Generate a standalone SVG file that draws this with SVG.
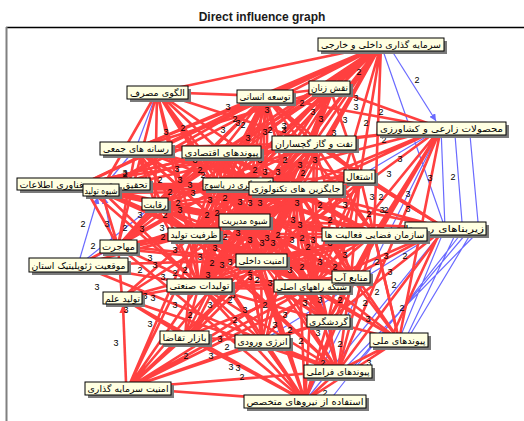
<svg xmlns="http://www.w3.org/2000/svg" width="524" height="421" viewBox="0 0 524 421">
<defs>
<style>
.r{fill:none;stroke:#ff4040;stroke-width:2.6}
.b{fill:none;stroke:#6a6aff;stroke-width:1.2}
.n .s{fill:#7a7a7a}
.n .k{fill:#ffffe1;stroke:#000;stroke-width:1}
.n text{font-family:"DejaVu Sans",sans-serif;font-size:9px;fill:#000;text-anchor:middle}
.n text.e{text-anchor:end}
.lb text{font-family:"Liberation Sans",Arial,sans-serif;font-size:9px;fill:#000;text-anchor:middle}
</style>
<marker id="ab" viewBox="0 0 10 10" refX="10" refY="5" markerWidth="7" markerHeight="7" orient="auto" markerUnits="userSpaceOnUse"><path d="M0 0L10 5L0 10z" fill="#6a6aff"/></marker>
<marker id="ar" viewBox="0 0 10 10" refX="10" refY="5" markerWidth="8" markerHeight="8" orient="auto" markerUnits="userSpaceOnUse"><path d="M0 0L10 5L0 10z" fill="#ff4040"/></marker>
</defs>
<rect width="524" height="421" fill="#fff"/>
<text x="262" y="21" font-family="Liberation Sans, Arial, sans-serif" font-size="12" font-weight="bold" text-anchor="middle" fill="#1a1a1a">Direct influence graph</text>
<line x1="6" y1="27.5" x2="524" y2="27.5" stroke="#000" stroke-width="1.3"/>
<line x1="6.5" y1="27" x2="6.5" y2="421" stroke="#808080" stroke-width="2"/>
<g id="connectors">
<path class="b" d="M381 45L445 228M381 45L330 88M381 45L265 96M381 45L314 143M381 45L360 176M441 128L445 228M441 128L374 234M441 128L399 340M441 128L338 371M441 128L351 277M441 128L312 286M441 128L305 401M441 128L360 176M470 135L478 222M455 135L462 222M157 92L136 148M157 92L155 204M157 92L101 190M157 92L221 152M157 92L118 246M136 148L155 204M136 148L101 190M79 265L118 246M79 265L155 204M445 228L399 340M445 228L338 371M445 228L305 401M445 228L328 321M445 228L351 277M445 228L312 286M445 228L262 341M128 388L185 337M128 388L262 341M128 388L338 371M128 388L199 285M305 401L328 321M305 401L351 277M305 401L312 286M305 401L399 340M221 152L155 204M221 152L136 148M118 246L122 298M122 298L199 285M122 298L185 337M227 184L244 220M296 188L374 234M261 260L312 286M194 234L199 285M244 220L261 260M155 204L194 234M227 184L155 204M296 188L351 277M314 143L296 188M221 152L244 220M374 234L305 401M360 176L399 340M296 188L338 371M261 260L399 340M455 235L405 340M465 235L350 371M460 235L330 400M470 235L410 335M475 235L345 368"/>
<line class="b" x1="392" y1="51" x2="436" y2="121" marker-end="url(#ab)"/>
<line class="b" x1="80" y1="258" x2="98" y2="197" marker-end="url(#ab)"/>
<line class="b" x1="112" y1="240" x2="104" y2="197" marker-end="url(#ab)"/>
<path class="r" d="M381 45L157 92M381 45L265 96M381 45L330 88M381 45L314 143M381 45L136 148M381 45L221 152M381 45L360 176M381 45L83 184M381 45L101 190M381 45L155 204M381 45L227 184M381 45L296 188M381 45L244 220M381 45L194 234M381 45L261 260M381 45L199 285M381 45L312 286M381 45L374 234M381 45L118 246"/>
<path class="r" d="M157 92L265 96M157 92L221 152M157 92L227 184M157 92L296 188M157 92L244 220M157 92L194 234M157 92L314 143M157 92L261 260M157 92L199 285M157 92L155 204M157 92L101 190M157 92L118 246"/>
<path class="r" d="M265 96L314 143M265 96L221 152M265 96L227 184M265 96L296 188M265 96L244 220M265 96L194 234M265 96L261 260M265 96L199 285M265 96L155 204M265 96L136 148M265 96L83 184M265 96L101 190M265 96L374 234M265 96L360 176M265 96L312 286M265 96L118 246M265 96L330 88"/>
<path class="r" d="M330 88L221 152M330 88L227 184M330 88L296 188M330 88L244 220M330 88L261 260M330 88L314 143M330 88L136 148M330 88L155 204M330 88L194 234M330 88L199 285M330 88L360 176"/>
<path class="r" d="M441 128L314 143M441 128L296 188M441 128L374 234M441 128L227 184M441 128L244 220M441 128L261 260M441 128L351 277M441 128L312 286M441 128L221 152M441 128L265 96M441 128L399 340M441 128L338 371M441 128L328 321M441 128L330 88"/>
<path class="r" d="M314 143L221 152M314 143L227 184M314 143L244 220M314 143L194 234M314 143L261 260M314 143L199 285M314 143L296 188M314 143L155 204M314 143L136 148M314 143L83 184M314 143L101 190M314 143L374 234M314 143L351 277M314 143L312 286M314 143L360 176"/>
<path class="r" d="M136 148L221 152M136 148L227 184M136 148L296 188M136 148L244 220M136 148L194 234M136 148L261 260M136 148L155 204M136 148L199 285M136 148L118 246"/>
<path class="r" d="M221 152L227 184M221 152L296 188M221 152L244 220M221 152L194 234M221 152L261 260M221 152L199 285M221 152L155 204M221 152L101 190M221 152L83 184M221 152L118 246M221 152L374 234M221 152L312 286M221 152L351 277M221 152L360 176"/>
<path class="r" d="M360 176L296 188M360 176L244 220M360 176L374 234M360 176L227 184M360 176L261 260M360 176L351 277M360 176L312 286M360 176L194 234M360 176L445 228M360 176L328 321M360 176L399 340"/>
<path class="r" d="M83 184L227 184M83 184L296 188M83 184L244 220M83 184L155 204M83 184L194 234M83 184L221 152M83 184L261 260M83 184L199 285M83 184L118 246"/>
<path class="r" d="M101 190L155 204M101 190L227 184M101 190L296 188M101 190L244 220M101 190L194 234M101 190L261 260M101 190L199 285M101 190L118 246"/>
<path class="r" d="M155 204L227 184M155 204L296 188M155 204L244 220M155 204L194 234M155 204L261 260M155 204L199 285M155 204L118 246M155 204L374 234M155 204L312 286"/>
<path class="r" d="M227 184L296 188M227 184L244 220M227 184L194 234M227 184L261 260M227 184L199 285M227 184L374 234M227 184L351 277M227 184L312 286M227 184L328 321"/>
<path class="r" d="M296 188L244 220M296 188L194 234M296 188L261 260M296 188L199 285M296 188L374 234M296 188L351 277M296 188L312 286M296 188L328 321M296 188L262 341M296 188L399 340"/>
<path class="r" d="M244 220L194 234M244 220L261 260M244 220L199 285M244 220L374 234M244 220L351 277M244 220L312 286M244 220L328 321M244 220L185 337M244 220L262 341M244 220L399 340M244 220L338 371"/>
<path class="r" d="M194 234L261 260M194 234L199 285M194 234L374 234M194 234L351 277M194 234L312 286M194 234L328 321M194 234L185 337M194 234L262 341M194 234L122 298M194 234L338 371"/>
<path class="r" d="M374 234L261 260M374 234L351 277M374 234L312 286M374 234L199 285M374 234L328 321M374 234L399 340M374 234L338 371M374 234L445 228"/>
<path class="r" d="M445 228L296 188M445 228L360 176M445 228L244 220M445 228L261 260M445 228L351 277M445 228L312 286M445 228L227 184M445 228L314 143M445 228L328 321M445 228L338 371M440 232L392 336"/>
<path class="r" d="M118 246L194 234M118 246L261 260M118 246L199 285M118 246L244 220M118 246L227 184M118 246L122 298M79 265L194 234M79 265L199 285M79 265L261 260M79 265L244 220M79 265L227 184"/>
<path class="r" d="M261 260L351 277M261 260L312 286M261 260L199 285M261 260L328 321M261 260L185 337M261 260L262 341M261 260L399 340M261 260L338 371M351 277L312 286M351 277L199 285M351 277L328 321M351 277L399 340M351 277L338 371M312 286L199 285M312 286L328 321M312 286L185 337M312 286L262 341M312 286L399 340M312 286L338 371"/>
<path class="r" d="M199 285L328 321M199 285L185 337M199 285L262 341M199 285L122 298M199 285L338 371M122 298L261 260M122 298L244 220M122 298L185 337M328 321L262 341M328 321L399 340M328 321L338 371M185 337L262 341M262 341L338 371M262 341L305 401M399 340L338 371M399 340L305 401M338 371L305 401M122 298L305 401M118 246L305 401M155 204L338 371M79 265L338 371M122 298L338 371"/>
<path class="r" d="M128 388L185 337M128 388L199 285M128 388L261 260M128 388L244 220M128 388L194 234M128 388L227 184M128 388L296 188M128 388L312 286M128 388L262 341M128 388L328 321M128 388L338 371M128 388L305 401M128 388L351 277M128 388L374 234"/>
<path class="r" d="M305 401L261 260M305 401L312 286M305 401L351 277M305 401L199 285M305 401L244 220M305 401L194 234M305 401L227 184M305 401L296 188M305 401L328 321M305 401L262 341M305 401L185 337M305 401L374 234"/>
<path class="r" d="M224 155L299 191M224 155L247 223M224 155L197 237M224 155L264 263M224 155L202 288M224 155L377 237M224 155L315 289M230 187L247 223M230 187L264 263M230 187L202 288M230 187L377 237M230 187L315 289M230 187L354 280M299 191L197 237M299 191L264 263M299 191L202 288M299 191L377 237M299 191L315 289M299 191L354 280M247 223L202 288M247 223L377 237M247 223L315 289M247 223L354 280M247 223L331 324M197 237L264 263M197 237L377 237M197 237L315 289M197 237L354 280M197 237L331 324M264 263L377 237M264 263L202 288M264 263L331 324M202 288L377 237M202 288L315 289M202 288L354 280"/>
<path class="r" d="M158 207L299 191M158 207L247 223M158 207L264 263M158 207L377 237M158 207L315 289M158 207L354 280M317 146L247 223M317 146L197 237M317 146L264 263M317 146L202 288M317 146L315 289M363 179L247 223M363 179L264 263M363 179L315 289M363 179L197 237M268 99L247 223M268 99L264 263M268 99L197 237M268 99L202 288M333 91L247 223M333 91L264 263M333 91L197 237M139 151L247 223M139 151L264 263M139 151L299 191M121 249L247 223M121 249L264 263M121 249L299 191M104 193L247 223M104 193L264 263M104 193L299 191M331 324L230 187M331 324L224 155M265 344L230 187M265 344L299 191M188 340L299 191M188 340L264 263M188 340L247 223"/>
<line class="r" x1="126" y1="382" x2="123" y2="305" marker-end="url(#ar)"/>
<g class="lb">
<text x="417" y="83">2</text><text x="359" y="75">2</text><text x="356" y="101">3</text><text x="356" y="110">3</text><text x="381" y="115">2</text><text x="366" y="126">2</text><text x="345" y="123">3</text><text x="321" y="122">3</text><text x="313" y="115">3</text><text x="302" y="106">2</text><text x="267" y="113">3</text><text x="400" y="162">3</text><text x="384" y="143">2</text><text x="389" y="177">3</text><text x="430" y="181">3</text><text x="453" y="180">2</text><text x="408" y="197">3</text><text x="408" y="212">3</text><text x="381" y="200">2</text><text x="372" y="200">3</text><text x="382" y="213">3</text><text x="386" y="213">2</text><text x="369" y="217">2</text><text x="386" y="259">3</text><text x="405" y="259">2</text><text x="377" y="265">2</text><text x="390" y="275">3</text><text x="394" y="288">2</text><text x="377" y="295">2</text><text x="365" y="306">2</text><text x="402" y="311">2</text><text x="368" y="322">3</text><text x="340" y="347">2</text><text x="369" y="366">3</text><text x="323" y="366">2</text><text x="325" y="396">2</text><text x="318" y="336">3</text><text x="301" y="344">2</text><text x="305" y="306">3</text>
<text x="97" y="290">3</text><text x="126" y="313">3</text><text x="116" y="346">3</text><text x="150" y="327">3</text><text x="186" y="359">2</text><text x="211" y="359">3</text><text x="220" y="342">3</text><text x="227" y="350">2</text><text x="231" y="370">3</text><text x="238" y="371">3</text><text x="242" y="380">2</text><text x="153" y="301">3</text><text x="145" y="299">3</text>
<text x="83" y="227">2</text><text x="107" y="227">3</text><text x="93" y="249">2</text><text x="125" y="176">3</text><text x="142" y="232">3</text><text x="160" y="183">2</text>
<text x="228" y="110">3</text><text x="166" y="135">3</text><text x="183" y="131">2</text><text x="223" y="133">3</text><text x="238" y="126">3</text><text x="243" y="128">2</text><text x="248" y="141">3</text><text x="125" y="177">2</text><text x="177" y="172">3</text><text x="235" y="122">2</text><text x="265" y="135">3</text><text x="270" y="133">2</text><text x="284" y="133">3</text><text x="284" y="129">3</text><text x="334" y="136">3</text>
<text x="203" y="178">2</text><text x="190" y="188">3</text><text x="193" y="196">3</text><text x="178" y="206">2</text><text x="180" y="213">3</text><text x="240" y="205">3</text><text x="250" y="206">3</text><text x="260" y="206">3</text><text x="265" y="175">3</text><text x="278" y="175">3</text><text x="303" y="176">2</text><text x="207" y="218">2</text><text x="217" y="216">2</text><text x="238" y="236">3</text><text x="260" y="230">3</text><text x="278" y="238">2</text><text x="293" y="223">3</text><text x="297" y="206">3</text><text x="162" y="231">3</text><text x="163" y="240">2</text><text x="267" y="241">3</text>
<text x="225" y="240">2</text><text x="250" y="243">3</text><text x="262" y="246">3</text><text x="273" y="246">3</text><text x="292" y="243">3</text><text x="302" y="241">2</text><text x="313" y="243">3</text><text x="200" y="260">3</text><text x="212" y="266">2</text><text x="222" y="268">3</text><text x="230" y="265">3</text><text x="250" y="273">2</text><text x="250" y="280">3</text><text x="257" y="283">2</text><text x="270" y="286">3</text><text x="208" y="278">3</text><text x="175" y="276">2</text><text x="163" y="280">3</text><text x="233" y="298">3</text><text x="290" y="273">3</text><text x="302" y="270">2</text><text x="320" y="265">3</text><text x="335" y="270">2</text><text x="345" y="258">3</text><text x="308" y="250">2</text><text x="330" y="246">3</text>
<text x="150" y="193">3</text><text x="165" y="218">2</text><text x="150" y="261">3</text><text x="140" y="273">2</text><text x="175" y="253">3</text><text x="155" y="268">3</text><text x="185" y="273">2</text><text x="215" y="251">3</text><text x="230" y="303">2</text><text x="245" y="313">3</text><text x="265" y="308">2</text><text x="285" y="318">3</text><text x="210" y="308">3</text><text x="190" y="318">2</text><text x="175" y="308">3</text><text x="235" y="323">2</text><text x="275" y="328">3</text><text x="290" y="333">2</text><text x="320" y="303">3</text><text x="340" y="303">2</text><text x="300" y="228">3</text><text x="330" y="223">2</text><text x="345" y="208">3</text><text x="320" y="208">2</text><text x="315" y="163">3</text><text x="300" y="168">3</text><text x="285" y="163">2</text><text x="260" y="163">3</text><text x="255" y="173">2</text><text x="195" y="163">3</text><text x="200" y="173">2</text><text x="180" y="183">3</text><text x="170" y="195">2</text><text x="140" y="218">3</text><text x="125" y="231">2</text><text x="210" y="203">3</text><text x="225" y="201">2</text>
</g>
</g>
<g id="n-A" class="n"><rect class="s" x="321" y="41" width="126" height="13"/><rect class="k" x="318" y="38" width="126" height="13"/><text x="381" y="48" textLength="120" lengthAdjust="spacingAndGlyphs">سرمایه گذاری داخلی و خارجی</text></g>
<g id="n-B" class="n"><rect class="s" x="130" y="89" width="61" height="13"/><rect class="k" x="127" y="86" width="61" height="13"/><text x="157.5" y="96" textLength="55" lengthAdjust="spacingAndGlyphs">الگوی مصرف</text></g>
<g id="n-C" class="n"><rect class="s" x="240" y="93" width="56" height="13"/><rect class="k" x="237" y="90" width="56" height="13"/><text x="265" y="100" textLength="51" lengthAdjust="spacingAndGlyphs">توسعه انسانی</text></g>
<g id="n-D" class="n"><rect class="s" x="312" y="84" width="41" height="13"/><rect class="k" x="309" y="81" width="41" height="13"/><text x="329.5" y="91" textLength="37" lengthAdjust="spacingAndGlyphs">نقش زنان</text></g>
<g id="n-E" class="n"><rect class="s" x="380" y="125" width="129" height="13"/><rect class="k" x="377" y="122" width="129" height="13"/><text x="441.5" y="132" textLength="123" lengthAdjust="spacingAndGlyphs">محصولات زارعی و کشاورزی</text></g>
<g id="n-F" class="n"><rect class="s" x="275" y="139" width="84" height="14"/><rect class="k" x="272" y="136" width="84" height="14"/><text x="314" y="146.5" textLength="78" lengthAdjust="spacingAndGlyphs">نفت و گاز گچساران</text></g>
<g id="n-G" class="n"><rect class="s" x="103" y="145" width="72" height="13"/><rect class="k" x="100" y="142" width="72" height="13"/><text x="136" y="152" textLength="66" lengthAdjust="spacingAndGlyphs">رسانه های جمعی</text></g>
<g id="n-H" class="n"><rect class="s" x="185" y="149" width="79" height="12"/><rect class="k" x="182" y="146" width="79" height="12"/><text x="221.5" y="155.5" textLength="74" lengthAdjust="spacingAndGlyphs">پیوندهای اقتصادی</text></g>
<g id="n-I" class="n"><rect class="s" x="347" y="173" width="31" height="13"/><rect class="k" x="344" y="170" width="31" height="13"/><text x="359.5" y="180" textLength="27" lengthAdjust="spacingAndGlyphs">اشتغال</text></g>
<g id="n-J" class="n"><rect class="s" x="20" y="181" width="133" height="12"/><rect class="k" x="17" y="178" width="133" height="12"/><text x="83.5" y="187.5" textLength="128" lengthAdjust="spacingAndGlyphs">تحقیق و توسعه فناوری اطلاعات</text></g>
<g id="n-K" class="n"><rect class="s" x="86" y="187" width="36" height="12"/><rect class="k" x="83" y="184" width="36" height="12"/><text x="101" y="193.5" textLength="33" lengthAdjust="spacingAndGlyphs">شیوه تولید</text></g>
<g id="n-L" class="n"><rect class="s" x="145" y="201" width="26" height="12"/><rect class="k" x="142" y="198" width="26" height="12"/><text x="155" y="207.5" textLength="23" lengthAdjust="spacingAndGlyphs">رقابت</text></g>
<g id="n-M" class="n"><rect class="s" x="206" y="181" width="70" height="12"/><rect class="k" x="203" y="178" width="70" height="12"/><text class="e" x="271" y="187.5" textLength="67" lengthAdjust="spacingAndGlyphs">گردشگری در یاسوج</text></g>
<g id="n-N" class="n"><rect class="s" x="252" y="185" width="94" height="13"/><rect class="k" x="249" y="182" width="94" height="13"/><text x="296" y="192" textLength="89" lengthAdjust="spacingAndGlyphs">جایگزین های تکنولوژی</text></g>
<g id="n-O" class="n"><rect class="s" x="222" y="217" width="51" height="13"/><rect class="k" x="219" y="214" width="51" height="13"/><text x="244.5" y="224" textLength="46" lengthAdjust="spacingAndGlyphs">شیوه مدیریت</text></g>
<g id="n-P" class="n"><rect class="s" x="171" y="231" width="52" height="13"/><rect class="k" x="168" y="228" width="52" height="13"/><text x="194" y="238" textLength="47" lengthAdjust="spacingAndGlyphs">ظرفیت تولید</text></g>
<g id="n-R" class="n"><rect class="s" x="408" y="225" width="81" height="13"/><rect class="k" x="405" y="222" width="81" height="13"/><text class="e" x="484" y="232" textLength="92" lengthAdjust="spacingAndGlyphs">زیربناهای روستایی</text></g>
<g id="n-Q" class="n"><rect class="s" x="325" y="231" width="105" height="13"/><rect class="k" x="322" y="228" width="105" height="13"/><text x="374.5" y="238" textLength="100" lengthAdjust="spacingAndGlyphs">سازمان فضایی فعالیت ها</text></g>
<g id="n-S" class="n"><rect class="s" x="103" y="243" width="37" height="13"/><rect class="k" x="100" y="240" width="37" height="13"/><text x="118.5" y="250" textLength="33" lengthAdjust="spacingAndGlyphs">مهاجرت</text></g>
<g id="n-T" class="n"><rect class="s" x="32" y="261" width="99" height="14"/><rect class="k" x="29" y="258" width="99" height="14"/><text x="78.5" y="268.5" textLength="94" lengthAdjust="spacingAndGlyphs">موقعیت ژئوپلیتیک استان</text></g>
<g id="n-U" class="n"><rect class="s" x="239" y="257" width="51" height="13"/><rect class="k" x="236" y="254" width="51" height="13"/><text x="261.5" y="264" textLength="46" lengthAdjust="spacingAndGlyphs">امنیت داخلی</text></g>
<g id="n-W" class="n"><rect class="s" x="277" y="283" width="76" height="12"/><rect class="k" x="274" y="280" width="76" height="12"/><text class="e" x="347" y="289.5" textLength="71" lengthAdjust="spacingAndGlyphs">شبکه راههای اصلی</text></g>
<g id="n-V" class="n"><rect class="s" x="335" y="274" width="38" height="12"/><rect class="k" x="332" y="271" width="38" height="12"/><text x="351" y="280.5" textLength="34" lengthAdjust="spacingAndGlyphs">منابع آب</text></g>
<g id="n-X" class="n"><rect class="s" x="170" y="282" width="65" height="13"/><rect class="k" x="167" y="279" width="65" height="13"/><text x="199.5" y="289" textLength="60" lengthAdjust="spacingAndGlyphs">تولیدات صنعتی</text></g>
<g id="n-Y" class="n"><rect class="s" x="106" y="295" width="39" height="12"/><rect class="k" x="103" y="292" width="39" height="12"/><text x="122.5" y="301.5" textLength="35" lengthAdjust="spacingAndGlyphs">تولید علم</text></g>
<g id="n-Z" class="n"><rect class="s" x="310" y="318" width="43" height="12"/><rect class="k" x="307" y="315" width="43" height="12"/><text x="328.5" y="324.5" textLength="39" lengthAdjust="spacingAndGlyphs">گردشگری</text></g>
<g id="n-a" class="n"><rect class="s" x="163" y="334" width="49" height="13"/><rect class="k" x="160" y="331" width="49" height="13"/><text x="184.5" y="341" textLength="44" lengthAdjust="spacingAndGlyphs">بازار تقاضا</text></g>
<g id="n-b" class="n"><rect class="s" x="238" y="338" width="55" height="13"/><rect class="k" x="235" y="335" width="55" height="13"/><text x="262.5" y="345" textLength="50" lengthAdjust="spacingAndGlyphs">انرژی ورودی</text></g>
<g id="n-c" class="n"><rect class="s" x="373" y="336" width="58" height="14"/><rect class="k" x="370" y="333" width="58" height="14"/><text x="399" y="343.5" textLength="53" lengthAdjust="spacingAndGlyphs">پیوندهای ملی</text></g>
<g id="n-d" class="n"><rect class="s" x="307" y="368" width="68" height="13"/><rect class="k" x="304" y="365" width="68" height="13"/><text x="338" y="375" textLength="63" lengthAdjust="spacingAndGlyphs">پیوندهای فراملی</text></g>
<g id="n-e" class="n"><rect class="s" x="88" y="385" width="86" height="13"/><rect class="k" x="85" y="382" width="86" height="13"/><text x="128" y="392" textLength="81" lengthAdjust="spacingAndGlyphs">امنیت سرمایه گذاری</text></g>
<g id="n-f" class="n"><rect class="s" x="247" y="398" width="122" height="13"/><rect class="k" x="244" y="395" width="122" height="13"/><text x="305" y="405" textLength="117" lengthAdjust="spacingAndGlyphs">استفاده از نیروهای متخصص</text></g>
</svg>
